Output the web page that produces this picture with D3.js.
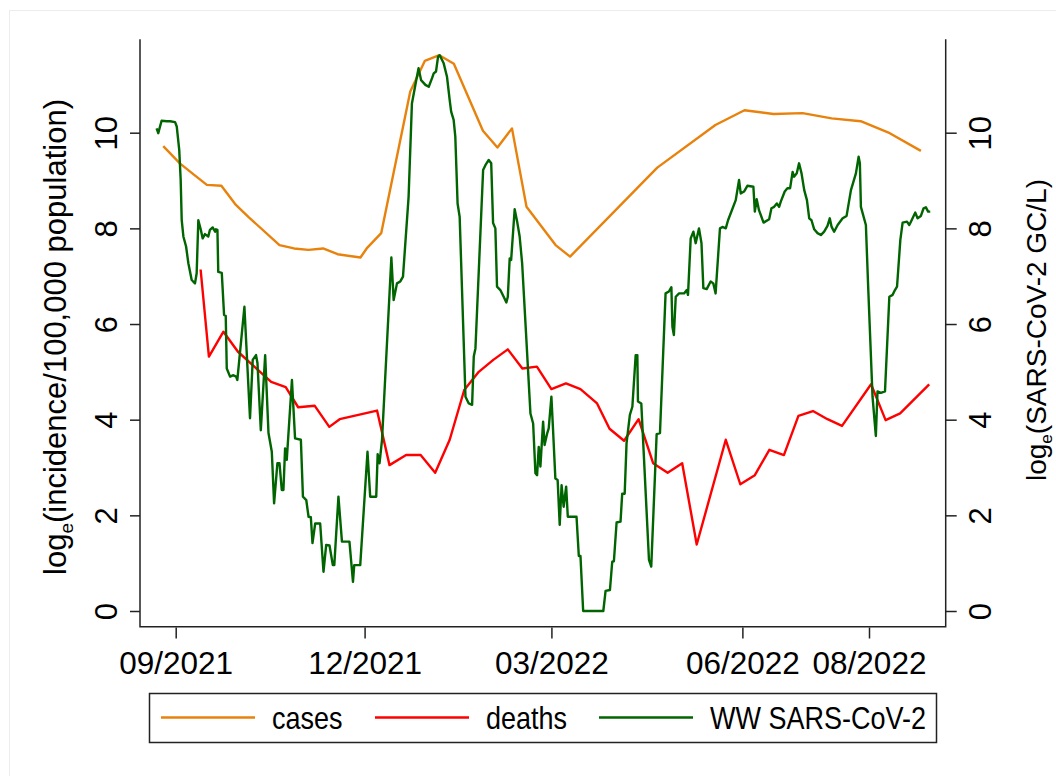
<!DOCTYPE html>
<html lang="en">
<head>
    <meta charset="UTF-8">
    <title>Cases, deaths and wastewater SARS-CoV-2</title>
    <script src="https://d3js.org/d3.v7.min.js"></script>
    <style>
        body { margin: 0; background: #fff; }
        text { font-family: "Liberation Sans", Arial, sans-serif; fill: #000; }
        .frame { stroke: #222; stroke-width: 1.5px; fill: none; }
        .axis line { stroke: #222; stroke-width: 1.5px; }
        .series { fill: none; stroke-width: 2.4px; stroke-linejoin: round; }
    </style>
</head>
<body>
<div id="chart"></div>

<script>
    // days counted from 2021-09-01
    var caseDay = [-6, 2, 8, 15, 22, 29, 35, 50, 57, 64, 71, 78, 89, 92, 99, 113, 120, 127, 134, 148, 155, 162, 169, 183, 190, 232, 260, 274, 288, 302, 316, 330, 344, 359];
    var caseVal = [9.72, 9.36, 9.15, 8.91, 8.89, 8.49, 8.24, 7.65, 7.58, 7.55, 7.58, 7.46, 7.39, 7.58, 7.90, 10.86, 11.50, 11.62, 11.44, 10.04, 9.69, 10.09, 8.45, 7.65, 7.41, 9.27, 10.16, 10.47, 10.39, 10.41, 10.30, 10.24, 9.99, 9.62];

    var deathDay = [12, 16, 23, 30, 46, 53, 59, 67, 74, 79, 97, 103, 111, 118, 125, 132, 139, 146, 153, 160, 167, 174, 181, 188, 195, 203, 209, 216, 223, 230, 237, 244, 251, 265, 272, 279, 286, 293, 300, 307, 314, 321, 335, 342, 349, 363];
    var deathVal = [7.14, 5.32, 5.84, 5.42, 4.79, 4.68, 4.26, 4.29, 3.85, 4.01, 4.19, 3.05, 3.26, 3.26, 2.89, 3.58, 4.62, 5.00, 5.25, 5.47, 5.07, 5.11, 4.64, 4.76, 4.64, 4.34, 3.81, 3.56, 4.01, 3.09, 2.89, 3.09, 1.39, 3.58, 2.65, 2.84, 3.37, 3.26, 4.08, 4.18, 4.01, 3.87, 4.74, 3.99, 4.13, 4.74];

    var wwDay = [-9.2, -8.4, -6.8, -4.3, -2.7, -0.3, 0.5, 1.7, 2.4, 2.9, 3.7, 5.0, 6.1, 7.7, 9.3, 10.1, 10.9, 12.1, 13.0, 14.1, 15.7, 16.5, 17.8, 19.0, 19.4, 20.1, 20.5, 22.2, 23.3, 24.1, 24.6, 26.2, 27.8, 29.1, 29.7, 33.1, 35.8, 37.1, 38.7, 39.4, 41.0, 43.1, 44.7, 46.3, 47.4, 49.0, 50.0, 51.1, 51.9, 52.7, 53.5, 56.0, 57.5, 60.3, 61.3, 62.9, 64.0, 65.1, 65.9, 67.2, 69.6, 71.2, 72.5, 74.1, 75.7, 76.4, 78.4, 80.1, 83.7, 85.4, 86.0, 88.9, 92.4, 93.7, 96.6, 97.3, 98.2, 99.4, 103.9, 105.0, 106.6, 108.2, 109.5, 112.2, 113.8, 115.9, 117.0, 118.2, 120.3, 121.9, 123.5, 124.3, 125.4, 126.4, 127.2, 129.1, 130.7, 132.0, 132.7, 133.9, 134.7, 135.8, 136.8, 139.6, 141.2, 142.8, 143.6, 144.4, 148.1, 149.2, 150.8, 152.0, 152.9, 154.0, 154.8, 156.4, 158.0, 159.3, 160.0, 160.9, 161.6, 163.3, 164.5, 165.7, 166.9, 168.5, 170.9, 172.2, 173.3, 174.1, 174.9, 175.7, 177.0, 177.7, 179.0, 179.7, 181.0, 181.8, 182.9, 184.0, 185.0, 185.9, 186.9, 188.1, 188.9, 193.1, 194.2, 195.0, 196.3, 206.0, 207.1, 209.2, 210.3, 211.1, 212.4, 214.3, 215.1, 216.3, 217.2, 218.8, 220.0, 221.6, 222.4, 222.7, 224.3, 228.0, 229.1, 231.7, 233.3, 236.0, 237.6, 238.8, 239.3, 240.0, 240.9, 242.5, 244.9, 246.2, 246.8, 248.1, 249.4, 250.5, 252.1, 253.3, 254.2, 255.8, 257.7, 259.0, 260.1, 262.2, 263.4, 265.0, 266.1, 269.8, 271.4, 272.2, 273.8, 275.4, 278.3, 279.0, 279.9, 281.0, 283.2, 285.9, 287.0, 288.3, 289.6, 290.7, 291.5, 293.4, 294.7, 296.0, 297.2, 297.9, 299.2, 300.3, 301.5, 302.8, 304.1, 305.2, 306.3, 307.6, 309.2, 310.8, 312.4, 314.0, 315.1, 316.0, 317.2, 318.9, 321.3, 323.2, 325.3, 327.7, 329.0, 329.6, 330.1, 332.5, 333.6, 335.7, 337.3, 338.1, 339.7, 341.7, 343.8, 345.4, 346.5, 347.5, 349.1, 350.2, 352.3, 353.4, 354.2, 356.3, 357.4, 359.0, 360.3, 361.4, 362.5, 363.5];
    var wwVal = [10.09, 9.99, 10.25, 10.24, 10.24, 10.22, 10.13, 9.64, 9.01, 8.17, 7.83, 7.62, 7.27, 6.92, 6.85, 7.06, 8.17, 7.97, 7.79, 7.88, 7.83, 7.97, 8.02, 7.93, 7.98, 7.97, 7.09, 7.07, 6.19, 6.17, 5.07, 4.90, 4.93, 4.90, 4.83, 6.36, 4.03, 5.25, 5.35, 5.18, 3.78, 5.35, 3.72, 3.33, 2.25, 3.09, 3.09, 2.53, 2.53, 3.40, 3.16, 4.83, 3.61, 3.58, 2.39, 2.32, 1.97, 1.96, 1.42, 1.83, 1.83, 0.82, 1.38, 1.37, 0.96, 0.96, 2.39, 1.45, 1.45, 0.61, 0.96, 0.96, 3.33, 2.39, 2.39, 3.28, 3.09, 3.58, 7.39, 6.50, 6.85, 6.89, 6.99, 8.66, 10.61, 11.10, 11.35, 11.10, 11.00, 10.96, 11.14, 11.24, 11.28, 11.59, 11.62, 11.45, 11.17, 10.68, 10.44, 10.27, 9.92, 8.52, 8.24, 4.48, 4.34, 4.31, 5.32, 5.49, 9.22, 9.32, 9.43, 9.36, 8.11, 8.00, 6.78, 6.71, 6.57, 6.45, 6.57, 7.37, 7.34, 8.40, 8.14, 7.83, 7.27, 6.02, 4.13, 3.92, 2.88, 2.84, 3.43, 3.02, 3.96, 3.47, 3.72, 3.82, 4.48, 3.78, 2.77, 2.74, 1.80, 2.63, 2.18, 2.60, 1.97, 1.97, 1.15, 1.15, 0, 0, 0.42, 0.44, 1.03, 1.04, 1.85, 1.87, 2.45, 2.45, 3.51, 4.10, 4.27, 5.35, 5.35, 4.38, 4.34, 1.07, 0.93, 3.70, 3.72, 6.64, 6.68, 6.77, 5.94, 5.77, 6.57, 6.64, 6.64, 6.71, 6.61, 7.79, 7.93, 7.69, 8.00, 7.69, 6.75, 6.73, 6.89, 6.85, 6.64, 8.00, 8.03, 8.00, 8.17, 8.59, 9.01, 8.73, 8.77, 8.89, 8.87, 8.35, 8.61, 8.38, 8.12, 8.19, 8.42, 8.45, 8.52, 8.45, 8.56, 8.77, 8.84, 8.84, 9.18, 9.08, 9.15, 9.36, 9.15, 8.80, 8.59, 8.21, 8.17, 7.98, 7.90, 7.86, 7.93, 8.05, 8.21, 8.03, 7.93, 8.07, 8.21, 8.26, 8.80, 9.15, 9.50, 9.36, 8.45, 8.07, 6.78, 4.48, 3.66, 4.59, 4.56, 4.59, 6.57, 6.61, 6.71, 6.78, 7.76, 8.12, 8.14, 8.07, 8.14, 8.33, 8.21, 8.26, 8.42, 8.44, 8.35, 8.35];

    var xTickDates = ["2021-09-01", "2021-12-01", "2022-03-01", "2022-06-01", "2022-08-01"];
    var xTickLabels = ["09/2021", "12/2021", "03/2022", "06/2022", "08/2022"];
    var yTicks = [0, 2, 4, 6, 8, 10];

    var seriesNames = ["cases", "deaths", "WW SARS-CoV-2"];
    var seriesColors = ["#e8820c", "#ff0000", "#006400"];

    var width = 1056, height = 776;
    var plot = { left: 140, right: 945.7, top: 39.3, bottom: 626.7 };

    var start = Date.UTC(2021, 8, 1);
    function dayToDate(d) { return new Date(start + d * 864e5); }

    var x = d3.scaleUtc()
        .domain([new Date("2021-09-01"), new Date("2022-08-01")])
        .range([175.7, 869]);

    var y = d3.scaleLinear()
        .domain([0, 10])
        .range([611, 132.7]);

    var svg = d3.select("#chart").append("svg")
        .attr("width", width)
        .attr("height", height);

    svg.append("rect")
        .attr("x", 9.5).attr("y", 10.5)
        .attr("width", 1200).attr("height", 900)
        .attr("fill", "none")
        .attr("stroke", "#ececec");

    // series
    var line = d3.line()
        .x(function(d) { return x(dayToDate(d[0])); })
        .y(function(d) { return y(d[1]); });

    var series = [
        d3.zip(caseDay, caseVal),
        d3.zip(deathDay, deathVal),
        d3.zip(wwDay, wwVal)
    ];

    svg.selectAll("path.series")
        .data(series)
        .enter().append("path")
        .attr("class", "series")
        .attr("stroke", function(d, i) { return seriesColors[i]; })
        .attr("d", line);

    // frame: left, right and bottom lines
    svg.append("path")
        .attr("class", "frame")
        .attr("d", "M" + plot.left + "," + plot.top + "V" + plot.bottom +
                   "H" + plot.right + "V" + plot.top);

    // left axis
    var yLeft = svg.append("g")
        .attr("class", "axis")
        .attr("transform", "translate(" + plot.left + ",0)")
        .call(d3.axisLeft(y).tickValues(yTicks).tickSize(10).tickSizeOuter(0));
    yLeft.select(".domain").remove();
    yLeft.selectAll("text")
        .attr("transform", "rotate(-90)")
        .attr("x", 0).attr("y", -23).attr("dy", 0)
        .attr("text-anchor", "middle")
        .style("font-size", "31px");

    // right axis, same scale
    var yRight = svg.append("g")
        .attr("class", "axis")
        .attr("transform", "translate(" + plot.right + ",0)")
        .call(d3.axisRight(y).tickValues(yTicks).tickSize(11).tickSizeOuter(0));
    yRight.select(".domain").remove();
    yRight.selectAll("text")
        .attr("transform", "rotate(-90)")
        .attr("x", 0).attr("y", 45).attr("dy", 0)
        .attr("text-anchor", "middle")
        .style("font-size", "31px");

    // bottom axis
    var xAxis = svg.append("g")
        .attr("class", "axis")
        .attr("transform", "translate(0," + (plot.bottom + 0.8) + ")")
        .call(d3.axisBottom(x)
            .tickValues(xTickDates.map(function(s) { return new Date(s); }))
            .tickFormat(function(d, i) { return xTickLabels[i]; })
            .tickSize(11).tickSizeOuter(0));
    xAxis.select(".domain").remove();
    xAxis.selectAll("text")
        .attr("y", 46).attr("dy", 0)
        .style("font-size", "31.5px");

    // axis titles
    var leftTitle = svg.append("text")
        .attr("transform", "translate(66,337) rotate(-90)")
        .attr("text-anchor", "middle")
        .style("font-size", "31px");
    leftTitle.append("tspan").text("log");
    leftTitle.append("tspan").attr("dy", 7).style("font-size", "19px").text("e");
    leftTitle.append("tspan").attr("dy", -7).text("(incidence/100,000 population)");

    var rightTitle = svg.append("text")
        .attr("transform", "translate(1046,330) rotate(-90)")
        .attr("text-anchor", "middle")
        .style("font-size", "28px");
    rightTitle.append("tspan").text("log");
    rightTitle.append("tspan").attr("dy", 6).style("font-size", "17px").text("e");
    rightTitle.append("tspan").attr("dy", -6).text("(SARS-CoV-2 GC/L)");

    // legend
    var legend = svg.append("g");
    legend.append("rect")
        .attr("x", 149.5).attr("y", 693.5)
        .attr("width", 787).attr("height", 49)
        .attr("fill", "#fff")
        .attr("stroke", "#222")
        .attr("stroke-width", 1.5);

    var legendX = [161, 375, 599];
    var item = legend.selectAll("g.item")
        .data(seriesNames)
        .enter().append("g")
        .attr("class", "item")
        .attr("transform", function(d, i) { return "translate(" + legendX[i] + ",717.5)"; });
    item.append("line")
        .attr("x1", 0).attr("x2", 94)
        .attr("stroke", function(d, i) { return seriesColors[i]; })
        .attr("stroke-width", 2.4);
    // legend labels in the reference are a little taller than wide
    item.append("text")
        .attr("transform", "translate(111,11) scale(1,1.15)")
        .style("font-size", "27px")
        .text(function(d) { return d; });
</script>
</body>
</html>
